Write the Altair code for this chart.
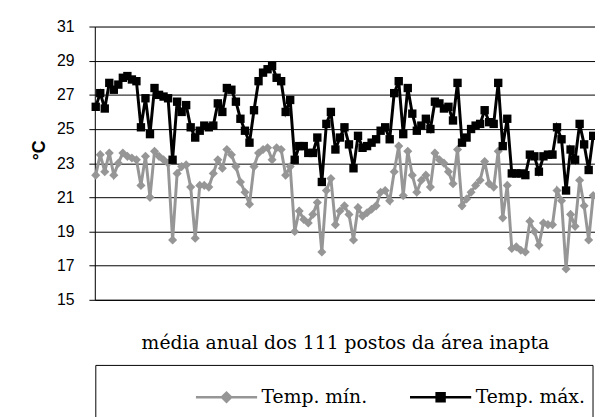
import altair as alt
import pandas as pd

series_names = ["Temp. mín.", "Temp. máx."]
y_ticks = [15, 17, 19, 21, 23, 25, 27, 29, 31]
x_title = "média anual dos 111 postos da área inapta"
y_title = "°C"

temp_min = [
    22.3, 23.5, 22.5, 23.6, 22.3, 23.0, 23.6, 23.4, 23.3, 23.2, 21.7, 23.4, 21.0, 23.7, 23.4, 23.2, 23.0, 18.5,
    22.4, 22.8, 22.9, 21.6, 18.6, 21.7, 21.7, 21.6, 22.4, 23.2, 22.7, 23.8, 23.5, 22.8, 21.9, 21.3,
    20.6, 22.8, 23.6, 23.8, 23.9, 23.2, 23.9, 23.8, 22.3, 22.8,
    19.0, 20.2, 19.7, 19.5, 20.0, 20.7, 17.8,
    21.4, 22.1, 19.4, 20.2, 20.5, 20.0, 18.5, 20.4, 19.9, 20.1, 20.3, 20.5, 21.3, 21.4, 20.8, 22.5, 24.0,
    21.1, 23.7, 22.3, 21.3, 22.0, 22.3, 21.6, 23.6, 23.2, 23.0, 22.5, 21.8, 23.8,
    20.5, 20.9, 21.3, 21.7, 22.0, 23.1, 21.8, 21.6, 23.7,
    19.8, 21.7, 18.0, 18.1, 17.9, 17.8, 19.6, 19.0, 18.2, 19.5, 19.4, 19.4, 21.4, 20.8, 16.8, 20.0, 19.3,
    22.0, 20.5, 18.5, 21.1,
]
temp_max = [
    26.3, 27.1, 26.2, 27.7, 27.3, 27.6, 28.0, 28.1, 27.9, 27.8, 25.1, 26.8, 24.7, 27.4, 27.0, 26.9, 26.8, 23.2,
    26.6, 26.0, 26.4, 25.1, 24.5, 24.9, 25.2, 25.1, 25.2, 26.5, 26.0, 27.4, 27.3, 26.6, 25.6, 24.9,
    24.2, 26.1, 27.8, 28.3, 28.5, 28.7, 28.0, 27.8, 26.0, 26.7,
    23.2, 24.0, 24.0, 23.6, 23.6, 24.5, 21.9,
    25.3, 26.0, 23.8, 24.5, 25.1, 24.1, 22.7, 24.6, 23.9, 24.0, 24.2, 24.4, 24.9, 25.1, 24.4, 27.1, 27.8,
    24.7, 27.4, 25.9, 24.9, 25.2, 25.6, 25.0, 26.6, 26.5, 26.2, 26.3, 25.5, 27.7,
    24.2, 24.5, 25.0, 25.2, 25.3, 26.1, 25.4, 25.3, 27.7,
    24.0, 25.6, 22.4, 22.4, 22.4, 22.3, 23.5, 23.4, 22.5, 23.4, 23.5, 23.5, 25.1, 24.4, 21.4, 23.8, 23.2,
    25.3, 24.1, 22.6, 24.6,
]

n = len(temp_max)
posto = list(range(1, n + 1))
df = pd.DataFrame({
    "posto": posto * 2,
    "temp": temp_min + temp_max,
    "serie": [series_names[0]] * n + [series_names[1]] * n,
})
df_min = df[df.serie == series_names[0]]
df_max = df[df.serie == series_names[1]]

GRAY = "#969696"
BLACK = "#000000"
SERIF = "DejaVu Serif"
W, H = 507, 277

xscale = alt.Scale(domain=[0.8, 111.4], nice=False, zero=False)
yscale = alt.Scale(domain=[15, 31], nice=False, zero=False)

x_enc = alt.X("posto:Q", scale=xscale, axis=alt.Axis(
    title=x_title, labels=False, ticks=False, grid=False,
    domainColor="black", domainWidth=1,
    titleFont=SERIF, titleFontSize=19, titleFontWeight="normal",
    titleColor="black", titleY=43, titleBaseline="middle"))
y_enc = alt.Y("temp:Q", scale=yscale, axis=alt.Axis(
    values=y_ticks, title=y_title, grid=True, gridColor="black", gridWidth=1,
    tickColor="black", tickSize=6, domainColor="black",
    labelFont="Liberation Sans", labelFontSize=16, labelColor="black", labelPadding=15,
    titleFont="Liberation Sans", titleFontSize=18, titleFontWeight="bold", titleColor="black",
    titleAngle=270, titleX=-56, titleY=125, titleAlign="center", titleBaseline="middle"))

min_line = alt.Chart(df_min).mark_line(color=GRAY, strokeWidth=3).encode(x=x_enc, y=y_enc)
min_pts = alt.Chart(df_min).mark_point(shape="diamond", filled=True, color=GRAY, size=85, opacity=1).encode(x=x_enc, y=y_enc)
max_line = alt.Chart(df_max).mark_line(color=BLACK, strokeWidth=3).encode(x=x_enc, y=y_enc)
max_pts = alt.Chart(df_max).mark_point(shape="square", filled=True, color=BLACK, size=72, opacity=1).encode(x=x_enc, y=y_enc)

sym_min = "M-1,0H1M-0.15,0L0,-0.15L0.15,0L0,0.15Z"
sym_max = "M-1,0H1M-0.13,-0.13H0.13V0.13H-0.13Z"
leg = alt.Legend(title=None, orient="none", legendX=101, legendY=343, direction="horizontal",
                 labelFont=SERIF, labelFontSize=19, labelColor="black",
                 symbolSize=3844, symbolStrokeWidth=2.5, labelOffset=3, columnPadding=37,
                 padding=0, symbolOpacity=1)
legend_layer = alt.Chart(df[df.posto == 1]).mark_point(filled=True, clip=True, strokeWidth=2.5).encode(
    x=alt.value(-60), y=y_enc,
    color=alt.Color("serie:N", scale=alt.Scale(domain=series_names, range=[GRAY, BLACK]), legend=leg),
    stroke=alt.Stroke("serie:N", scale=alt.Scale(domain=series_names, range=[GRAY, BLACK]), legend=leg),
    shape=alt.Shape("serie:N", scale=alt.Scale(domain=series_names, range=[sym_min, sym_max]), legend=leg),
)

box = alt.Chart(alt.Data(values=[{"k": 1}])).mark_rect(fill="transparent", stroke="black", strokeWidth=1).encode(
    x=alt.value(1), x2=alt.value(505), y=alt.value(343.5), y2=alt.value(430))

chart = alt.layer(min_line, min_pts, max_line, max_pts, legend_layer, box).properties(
    width=W, height=H,
    autosize=alt.AutoSizeParams(type="none"),
    padding={"left": 88, "top": 16, "right": 0, "bottom": 116},
).configure_view(stroke=None).configure(background="white")

chart.save("out.html", embed_options={"renderer": "svg", "actions": False})
